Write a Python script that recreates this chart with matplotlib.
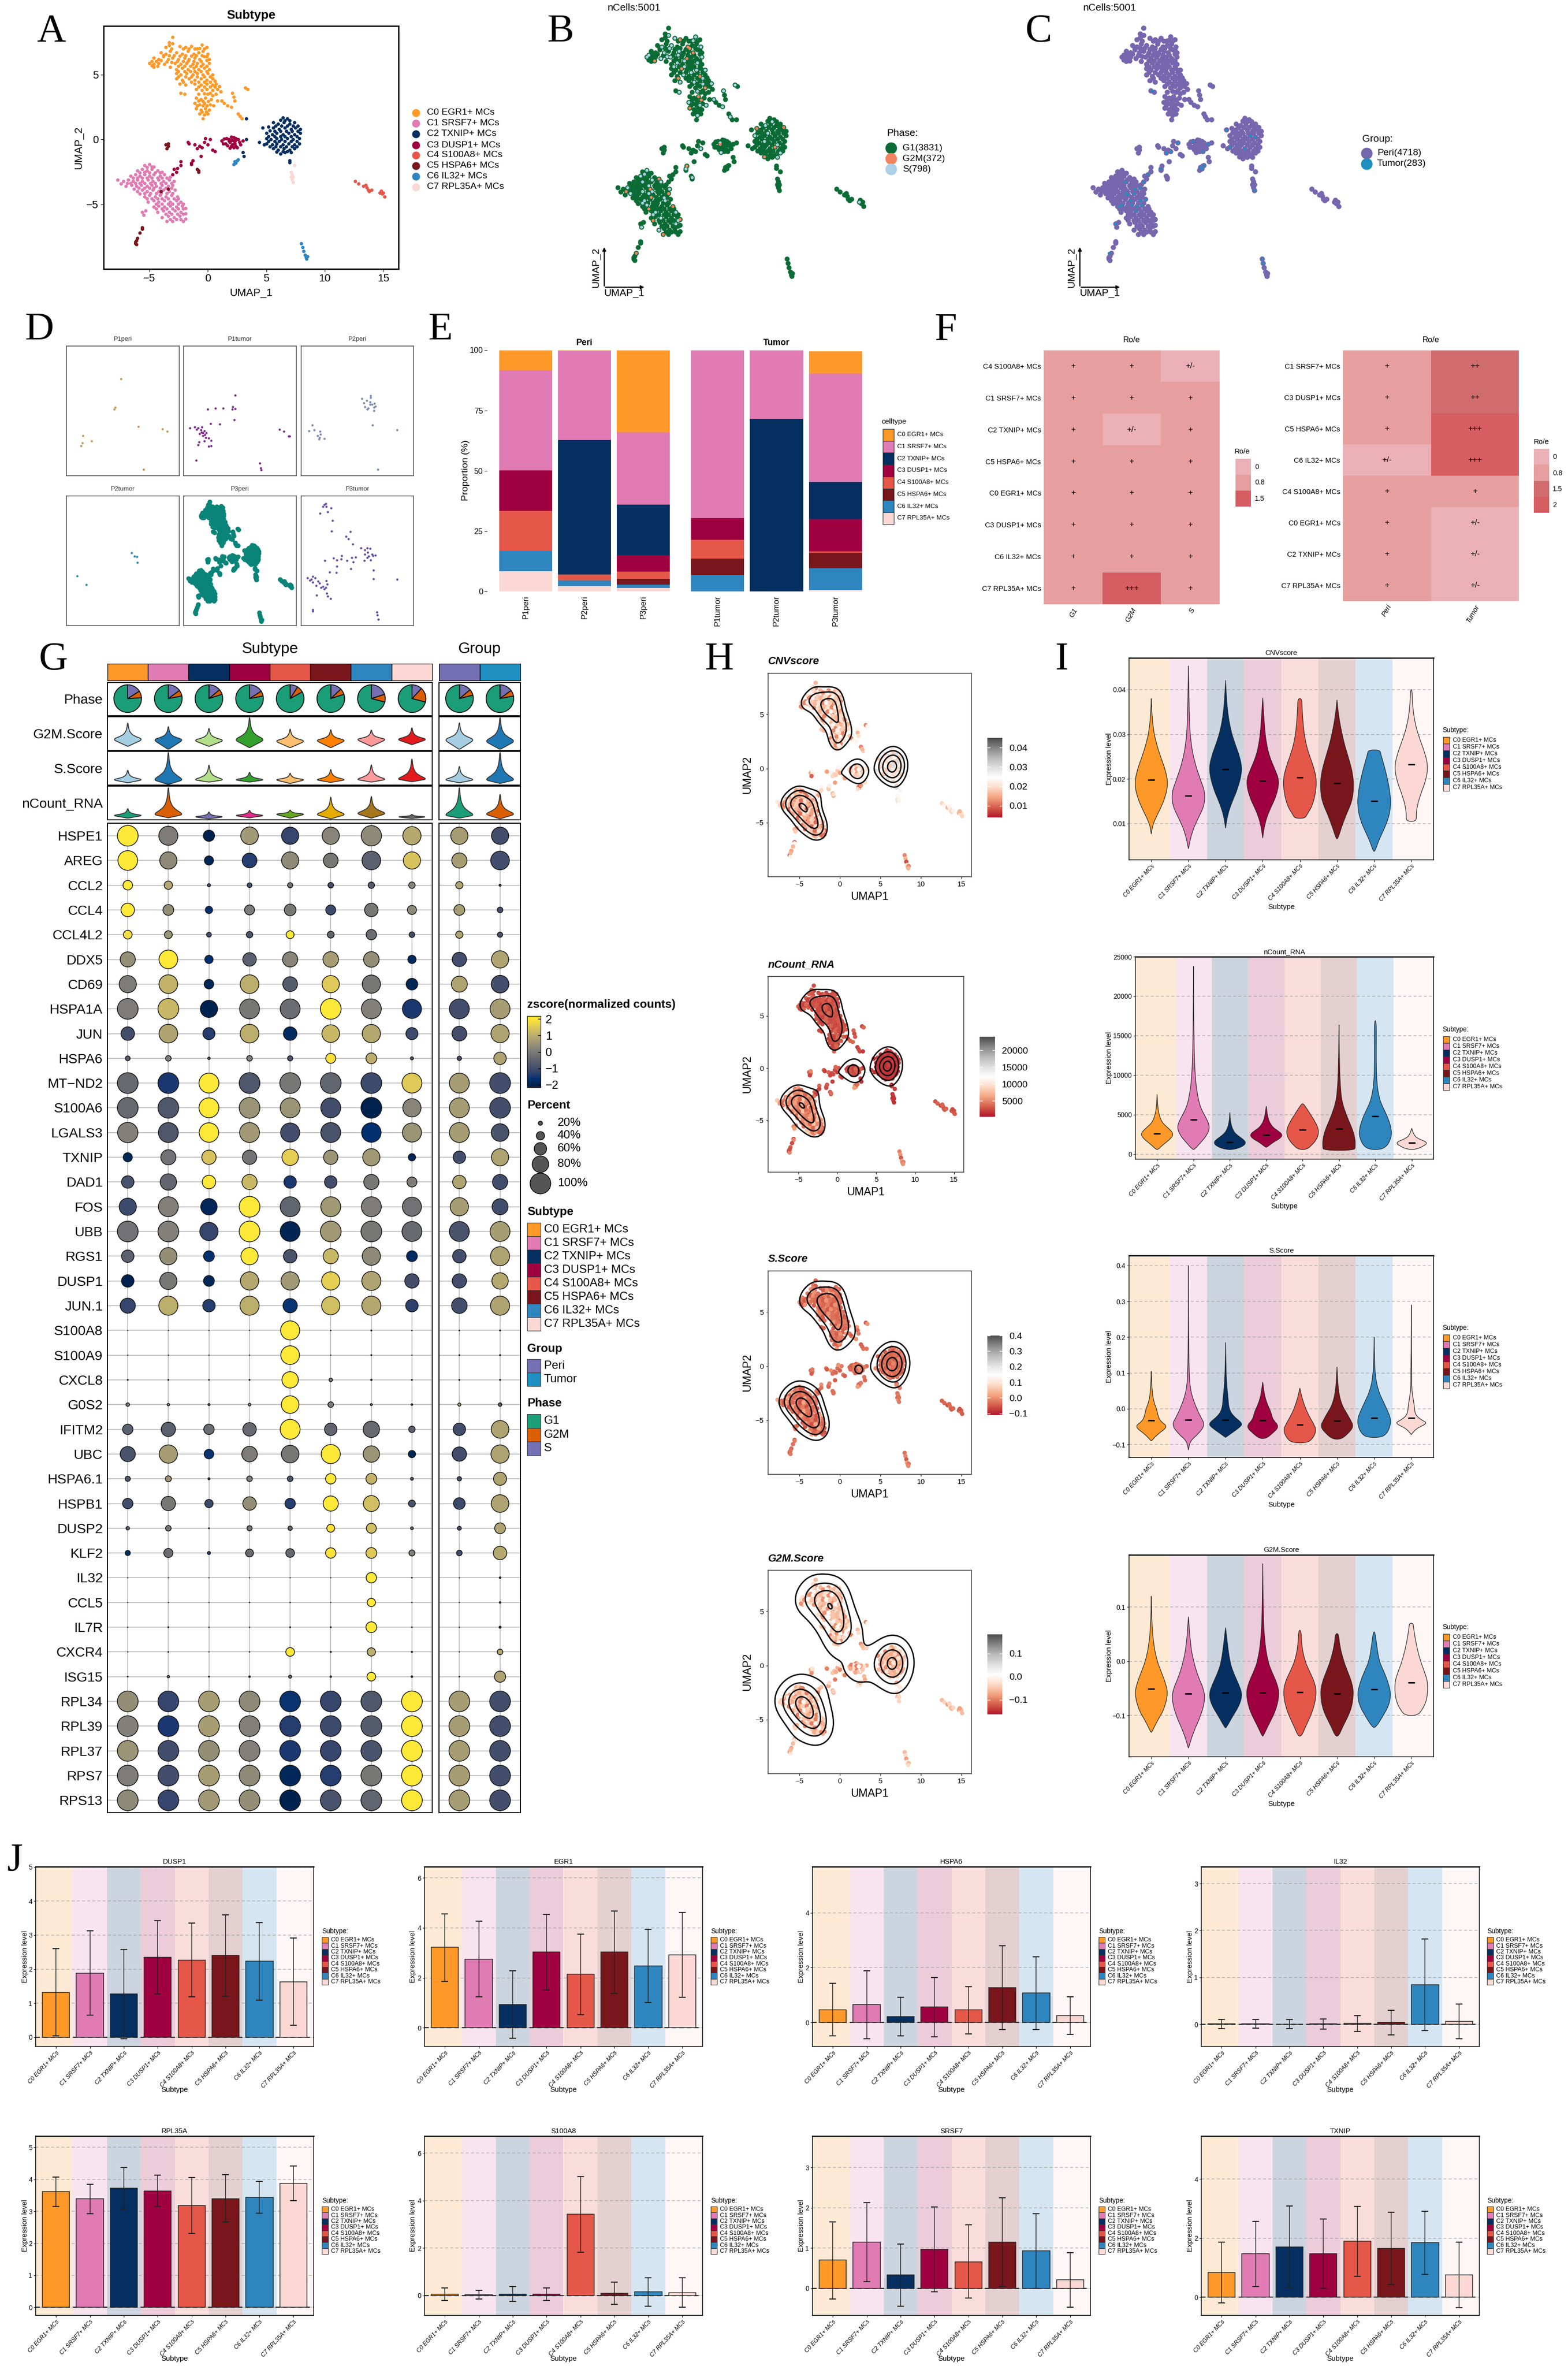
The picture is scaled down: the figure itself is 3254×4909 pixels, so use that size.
import numpy as np
import matplotlib
matplotlib.use("Agg")
import matplotlib.pyplot as plt
from matplotlib.colors import LinearSegmentedColormap, ListedColormap, BoundaryNorm
from matplotlib.path import Path
from matplotlib.patches import PathPatch, Rectangle

plt.rcParams['font.family'] = ['Liberation Sans', 'DejaVu Sans']

W, H = 3254, 4909

###############################################################################
# Data
###############################################################################

subtypes = ["C0 EGR1+ MCs", "C1 SRSF7+ MCs", "C2 TXNIP+ MCs", "C3 DUSP1+ MCs",
            "C4 S100A8+ MCs", "C5 HSPA6+ MCs", "C6 IL32+ MCs", "C7 RPL35A+ MCs"]
sub_cols = ["#FE9929", "#E07BB3", "#042F60", "#9F0040", "#E55748", "#78161C", "#2F86BF", "#FBD8D3"]

# UMAP cells, cluster by cluster
c0_cells = [(-3.0,7.9),(-3.3,7.5),(-3.0,7.4),(-3.6,7.1),(-3.1,7.0),(-2.4,7.2),(-1.9,7.1),(-1.4,7.2),(-.9,7.0),(-.5,7.3),(-.1,7.1),
    (-4.0,6.7),(-3.6,6.6),(-3.2,6.8),(-2.7,6.7),(-2.2,6.6),(-1.7,6.8),(-1.2,6.6),(-.8,6.7),(-.4,6.8),(0.0,6.6),
    (-4.6,6.3),(-4.2,6.2),(-3.8,6.4),(-3.4,6.2),(-3.0,6.3),(-2.5,6.2),(-2.0,6.3),(-1.6,6.2),(-1.1,6.3),(-.7,6.2),(-.3,6.4),(.1,6.2),
    (-5.0,5.9),(-4.6,5.8),(-4.2,5.9),(-3.7,5.8),(-3.2,5.6),(-2.8,5.9),(-2.3,5.8),(-1.8,5.9),(-1.3,5.8),(-.9,5.9),(-.4,5.8),(.1,5.9),
    (-4.6,5.6),(-2.7,5.4),(-2.2,5.5),(-1.7,5.4),(-1.2,5.5),(-.8,5.4),(-.3,5.5),(.1,5.4),
    (-2.7,5.1),(-2.3,5.0),(-1.8,5.1),(-1.3,5.0),(-.9,5.1),(-.4,5.0),(0.0,5.1),(.4,5.0),
    (-2.7,4.7),(-2.2,4.6),(-1.6,4.7),(-1.1,4.6),(-.6,4.7),(-.1,4.6),(.4,4.7),
    (-2.4,4.3),(-1.9,4.2),(-1.1,4.3),(-.6,4.2),(-.1,4.3),(.4,4.2),(.7,4.3),(1.0,4.1),
    (-1.0,3.9),(-.5,3.8),(-.1,3.9),(.4,3.8),(.8,3.9),(1.1,3.7),(3.2,4.0),(3.4,3.9),
    (-2.3,3.6),(-2.0,3.5),(0.0,3.5),(.4,3.4),(2.1,3.6),
    (-1.0,3.2),(-.6,3.1),(-.2,3.2),(.3,3.1),(.8,3.0),(1.2,3.0),(2.2,3.3),(2.3,3.0),
    (-1.1,2.8),(-.7,2.7),(-.3,2.8),(.2,2.7),(.5,2.6),(1.4,2.8),(1.7,2.6),
    (-1.0,2.4),(-.6,2.3),(-.2,2.4),(.1,2.3),(2.0,2.5),
    (-.7,2.0),(-.3,1.9),(0.0,2.0),(2.6,2.0),(-.4,1.6),(2.9,1.6),(2.75,1.8),
    (-3.3,7.25),(-2.1,7.0),(-1.6,7.0),(-1.1,7.0),(-.7,7.05),(-.3,7.0),
    (-3.8,6.5),(-3.3,6.5),(-2.9,6.5),(-2.4,6.45),(-1.9,6.5),(-1.4,6.45),(-1.0,6.5),(-.5,6.5),(-.1,6.4),
    (-4.8,6.05),(-4.4,6.05),(-4.0,6.1),(-3.5,6.0),(-3.1,5.95),(-2.6,6.05),(-2.1,6.05),(-1.7,6.05),(-1.2,6.05),(-.6,6.05),(-.1,6.1),
    (-4.8,5.7),(-4.3,5.65),(-2.5,5.65),(-2.0,5.65),(-1.5,5.65),(-1.0,5.65),(-.6,5.65),(-.1,5.65),
    (-2.5,5.25),(-2.0,5.25),(-1.5,5.25),(-1.1,5.25),(-.6,5.25),(-.1,5.25),
    (-2.5,4.85),(-1.9,4.85),(-1.4,4.85),(-.9,4.85),(-.3,4.85),(.2,4.85),
    (-2.1,4.45),(-1.4,4.45),(-.8,4.45),(-.3,4.45),(.2,4.45),(.6,4.5),
    (-.8,4.05),(-.3,4.05),(.2,4.05),(.6,4.05),
    (-.8,3.5),(-.3,3.55),(.2,3.6),(.7,3.5),(-.8,3.0),(-.4,2.95),(.05,2.95),(-.9,2.6),(-.4,2.6),(-.1,2.6),(-.5,2.15),(-.15,2.15)]
c1_cells = [(-5.4,-2.0),(-5.0,-1.9),(-4.6,-2.1),
    (-6.0,-2.4),(-5.6,-2.3),(-5.2,-2.4),(-4.8,-2.3),(-4.3,-2.4),(-3.9,-2.5),
    (-6.6,-2.8),(-6.2,-2.7),(-5.8,-2.8),(-5.4,-2.7),(-5.0,-2.8),(-4.6,-2.7),(-4.1,-2.8),(-3.7,-2.7),(-3.2,-2.9),
    (-7.7,-3.1),(-7.2,-3.2),(-6.8,-3.1),(-6.4,-3.2),(-6.0,-3.1),(-5.6,-3.2),(-5.1,-3.1),(-4.7,-3.2),(-4.2,-3.1),(-3.8,-3.2),(-3.3,-3.1),(-2.9,-3.2),
    (-7.0,-3.6),(-6.5,-3.5),(-6.1,-3.6),(-5.7,-3.5),(-5.2,-3.6),(-4.8,-3.5),(-4.4,-3.6),(-3.9,-3.5),(-3.4,-3.6),(-3.0,-3.5),
    (-6.0,-4.0),(-5.6,-3.9),(-5.2,-4.0),(-4.7,-3.9),(-4.2,-4.0),(-3.8,-3.9),(-3.3,-4.0),(-2.8,-3.9),
    (-5.4,-4.4),(-5.0,-4.3),(-4.5,-4.4),(-4.1,-4.3),(-3.6,-4.4),(-3.1,-4.3),(-2.6,-4.4),
    (-5.1,-4.8),(-4.6,-4.7),(-4.2,-4.8),(-3.7,-4.7),(-3.2,-4.8),(-2.7,-4.7),(-2.3,-4.8),
    (-4.6,-5.2),(-4.2,-5.1),(-3.7,-5.2),(-3.2,-5.1),(-2.7,-5.2),(-2.2,-5.1),(-1.9,-5.3),
    (-5.6,-5.6),(-5.3,-5.5),(-5.5,-5.8),(-4.3,-5.6),(-3.8,-5.5),(-3.3,-5.6),(-2.8,-5.5),(-2.3,-5.6),(-1.9,-5.7),
    (-3.9,-6.0),(-3.4,-5.9),(-2.9,-6.0),(-2.4,-5.9),(-1.9,-6.1),(-3.5,-6.3),(-3.0,-6.3),(-2.1,-6.3),
    (-5.2,-2.15),(-4.8,-2.1),(-5.8,-2.55),(-5.4,-2.5),(-5.0,-2.55),(-4.5,-2.55),(-4.1,-2.55),
    (-6.4,-2.95),(-6.0,-2.95),(-5.6,-2.95),(-5.2,-2.95),(-4.8,-2.95),(-4.3,-2.95),(-3.9,-2.95),(-3.5,-2.95),
    (-7.4,-3.4),(-6.9,-3.35),(-6.6,-3.35),(-6.2,-3.35),(-5.8,-3.35),(-5.4,-3.35),(-4.9,-3.35),(-4.5,-3.35),(-4.0,-3.35),(-3.6,-3.35),(-3.1,-3.35),
    (-6.3,-3.8),(-5.9,-3.75),(-5.4,-3.75),(-5.0,-3.75),(-4.6,-3.75),(-4.1,-3.75),(-3.6,-3.75),(-3.1,-3.75),
    (-5.8,-4.2),(-5.4,-4.15),(-4.9,-4.15),(-4.4,-4.15),(-4.0,-4.15),(-3.5,-4.15),(-3.0,-4.15),
    (-5.2,-4.55),(-4.8,-4.55),(-4.3,-4.55),(-3.9,-4.55),(-3.4,-4.55),(-2.9,-4.55),(-2.5,-4.55),
    (-4.4,-4.95),(-3.9,-4.95),(-3.4,-4.95),(-3.0,-4.95),(-2.5,-4.95),(-2.1,-4.95),
    (-4.4,-5.35),(-3.9,-5.35),(-3.5,-5.35),(-3.0,-5.35),(-2.5,-5.35),(-2.1,-5.35),
    (-3.6,-5.75),(-3.1,-5.75),(-2.6,-5.75),(-2.1,-5.75),(-3.2,-6.15),(-2.7,-6.15),(-2.3,-6.15)]
c2_cells = [(6.4,1.7),(6.8,1.6),(5.6,1.3),(6.0,1.2),(6.5,1.3),(7.0,1.2),(7.4,1.3),
    (4.7,.9),(5.2,1.0),(5.6,.9),(6.1,.8),(6.6,.9),(7.1,.8),(7.5,.9),(7.9,.8),
    (5.0,.5),(5.5,.4),(5.9,.5),(6.4,.4),(6.9,.5),(7.4,.4),(7.9,.5),
    (5.0,.1),(5.4,0.0),(5.9,.1),(6.3,0.0),(6.8,.1),(7.3,0.0),(7.8,.1),
    (5.0,-.3),(5.5,-.4),(5.9,-.3),(6.4,-.4),(6.9,-.3),(7.4,-.4),(7.8,-.3),
    (5.6,-.7),(6.0,-.8),(6.5,-.7),(7.0,-.8),(7.4,-.7),(6.2,-1.1),(6.6,-1.0),
    (4.4,-.2),(4.8,-.4),(3.3,0.0),(3.3,1.6),(7.0,-1.6),(7.0,-1.75),(3.0,-1.0),(3.1,-1.3),
    (6.2,1.5),(6.6,1.45),(7.0,1.45),(5.8,1.05),(6.3,1.05),(6.8,1.05),(7.3,1.05),(7.7,1.05),
    (5.3,.7),(5.7,.65),(6.2,.65),(6.7,.65),(7.2,.65),(7.7,.65),
    (5.2,.25),(5.7,.25),(6.2,.25),(6.6,.25),(7.1,.25),(7.6,.25),
    (5.2,-.15),(5.7,-.15),(6.1,-.15),(6.6,-.15),(7.1,-.15),(7.6,-.15),
    (5.3,-.55),(5.8,-.55),(6.2,-.55),(6.7,-.55),(7.2,-.55),(7.6,-.55),(5.9,-.95),(6.4,-.9),(6.8,-.9),(7.1,-1.0)]
c3_cells = [(1.2,-.1),(1.6,.1),(2.0,.2),(2.4,.1),(1.5,-.3),(1.9,-.2),(2.3,-.3),(2.7,-.2),(2.0,-.5),(2.5,-.6),(2.2,-.1),(3.0,-.1),
    (1.4,.05),(1.8,0.0),(2.2,.15),(2.6,0.0),(1.7,-.45),(2.1,-.4),(2.4,-.5),(2.8,-.4),(1.3,-.3),(1.8,-.1),(2.05,-.05),(2.35,-.1),(2.2,-.6),(1.9,-.65),
    (-1.7,-.2),(-1.6,-.3),(-1.1,-.4),(-.7,-.5),(-.3,-.2),(.2,0.0),(0.0,-.4),(-.2,.1),(-.9,-.7),(-.5,-.6),(.4,-.8),(.6,-.9),
    (-2.3,-1.7),(-2.3,-2.0),(-2.6,-2.2),(-2.9,-2.3),(-2.7,-2.5),(-3.0,-2.7),(-1.4,-1.8),(-1.4,-1.9),(-1.3,-1.6),(-.6,-1.3)]
c4_cells = [(12.6,-3.2),(12.9,-3.4),(13.3,-3.6),(13.6,-3.7),(13.7,-3.9),(13.8,-4.0),(14.0,-3.9),(14.7,-4.1),(14.9,-4.2),(15.0,-4.1),(15.1,-4.4),(13.5,-3.5),(14.8,-3.95)]
c5_cells = [(-3.6,-.4),(-3.4,-.5),(-3.5,-.7),(-3.4,-.3),(-.9,-2.3),(-.8,-2.5),(-.8,-2.4),(-5.6,-6.8),(-5.6,-6.9),(-5.8,-7.2),(-6.0,-7.6),(-6.2,-7.9),(-6.2,-8.0),(-6.1,-8.1),(-6.1,-7.8),(-3.4,-3.8),(-4.0,-4.0)]
c6_cells = [(2.3,-1.7),(2.4,-1.8),(2.5,-1.6),(2.2,-1.9),(2.6,-1.55),(8.0,-8.0),(8.1,-8.3),(8.2,-8.6),(8.3,-8.9),(8.4,-9.1),(8.5,-9.0),(8.45,-9.2)]
c7_cells = [(7.1,-2.5),(7.2,-2.7),(7.1,-2.9),(7.2,-3.1),(7.3,-3.3),(7.3,-2.9),(7.4,-2.0)]
all_cells = [c0_cells, c1_cells, c2_cells, c3_cells, c4_cells, c5_cells, c6_cells, c7_cells]

# positions in the full cell list that are not G1
s_idx = [2,5,9,12,14,20,24,27,33,36,38,44,47,51,58,60,63,69,71,75,82,85,88,94,97,101,108,110,115,120,124,131,135,137,146,150,152,159,166,170,173,181,185,188,
         196,200,204,213,215,219,226,230,233,241,245,248,255,260,262,270,275,281,290,292,305,318,329,340,352,361,377,389,398,412,423,437,449,456,468,479,491,500]
g2m_idx = [6,17,30,41,55,66,79,91,104,128,143,162,178,192,209,223,238,252,267,286,300,312,324,345,370,395,420,445,470,495]

phase_names = ["G1(3831)", "G2M(372)", "S(798)"]
phase_cols = ["#0B6B35", "#F4845F", "#ADD1E6"]
group_names = ["Peri(4718)", "Tumor(283)"]
group_cols = ["#7566AE", "#1E8FC0"]
tumor_cells = [(-4.6,-3.5),(-4.2,-4.0),(-3.8,-3.2),(-3.6,-4.4),(-3.3,-4.0),(-4.1,-4.3),(-3.7,-4.7),(-3.3,-3.1),(-4.4,-3.6),(-3.9,-3.5),(-5.0,-4.3),
    (-5.2,-4.4),(-3.1,-4.3),(-2.8,-3.9),(-4.7,-2.7),(-5.6,-5.6),(-6.2,-7.6),(-3.0,-2.7),(-2.6,-2.2),(-1.4,-1.8),(-.9,-.7),(.2,0.0),(-.5,-.6),(1.6,.1),
    (2.5,-.6),(3.0,-.1),(2.4,-1.8),(2.3,-1.7),(2.6,-1.55),(6.4,-.4),(6.9,.5),(7.4,.4),(4.7,.9),(5.0,-.3),(8.0,-8.0),(8.1,-8.3),(7.3,-3.3),(-2.2,3.6)]

# panel D: cells per patient and tissue
facet_names = ["P1peri", "P1tumor", "P2peri", "P2tumor", "P3peri", "P3tumor"]
facet_cols = ["#C8955A", "#7B2A8C", "#7C8DB0", "#2B8CA8", "#0A8478", "#6450A6"]
p1peri = [(3.27,4.0),(2.04,-.04),(1.83,-.29),(7.15,-2.79),(12.5,-3.14),(13.56,-3.52),(-5.19,-4.09),(-3.21,-4.85),(-5.32,-5.16),(-5.6,-5.6),(8.31,-8.96)]
p1tumor = [(2.65,1.7),(-3.48,-.35),(-1.78,-.16),(0.0,-.16),(2.1,.06),(2.04,-.35),(2.58,-.26),(2.45,-1.84),(-2.87,-2.41),(-.82,-2.44),
    (12.47,-3.2),(13.4,-3.5),(14.7,-4.18),(14.5,-4.2),(-6.07,-7.66),(8.1,-8.07),(8.3,-8.74),(8.45,-9.05),
    (-6.35,-2.88),(-7.44,-2.98),(-5.6,-2.98),(-4.7,-2.88),(-5.94,-3.2),(-4.9,-3.6),(-4.23,-3.45),(-5.25,-3.83),(-3.75,-3.68),(-4.57,-4.09),
    (-3.9,-4.4),(-3.2,-4.47),(-2.66,-4.78),(-4.23,-4.85),(-5.4,-5.04),(-5.6,-5.42),(-3.2,-5.67),(-2.66,-5.57),(-5.0,-3.3),(-4.5,-3.7),(-4.1,-4.0)]
p2peri = [(4.7,1.17),(6.67,1.64),(6.67,1.32),(5.8,.95),(5.2,.6),(6.54,.75),(7.56,.53),(7.0,.34),(5.4,.03),(5.9,-.29),(6.5,.37),(7.4,-.03),(7.36,-.51),(7.7,.09),(6.1,-.2),
    (7.08,-2.57),(12.5,-3.26),(8.3,-8.96),(-6.3,-2.63),(-7.1,-3.42),(-5.87,-3.26),(-4.64,-3.52),(-5.2,-4.09),(-4.7,-4.4),(-3.7,-4.53),(-4.5,-3.9),(-4.85,-4.62)]
p2tumor = [(5.65,.57),(6.26,.12),(6.8,0.0),(6.9,-.83),(-6.5,-2.76),(-4.37,-4.0)]
p3tumor = [(-3.35,7.62),(-3.7,7.46),(-4.0,7.2),(-3.2,7.24),(-2.1,7.0),(-4.65,6.26),(-2.94,6.45),(-1.8,5.2),(-2.05,3.67),(2.1,3.6),(1.2,2.94),(1.7,2.6),(2.7,1.83),
    (4.5,1.3),(5.85,1.3),(6.5,1.2),(5.4,.98),(6.0,.66),(7.0,.35),(7.7,.25),(5.4,.35),(6.2,.12),(5.3,-.51),(6.7,-.45),(7.2,.19),(5.85,-.13),
    (-3.55,-.51),(-1.65,-.2),(-.83,-.45),(.2,.19),(.06,-.29),(1.4,-.51),(2.45,-.13),(3.3,-.04),(2.8,-.76),(2.24,-1.71),(-.83,-1.33),(-2.5,-2.19),(-.96,-2.25),(7.3,-1.9),(7.3,-3.14),(12.5,-3.2),
    (-7.44,-3.04),(-6.2,-2.82),(-5.7,-3.04),(-6.9,-3.36),(-6.2,-3.6),(-5.5,-4.09),(-4.7,-3.77),(-4.0,-4.25),(-3.2,-3.45),(-3.35,-4.4),(-3.0,-3.93),(-5.4,-5.5),(-2.94,-5.67),(-2.3,-5.98),(-3.1,-5.2),
    (-6.2,-7.6),(-6.25,-7.75),(8.0,-7.9),(8.15,-8.36),(8.4,-8.93),(-6.6,-3.2),(-5.0,-3.5),(-4.4,-4.4),(-3.6,-4.6)]

# panel E: percent of each subtype in every sample
sample_names = [["P1peri", "P2peri", "P3peri"], ["P1tumor", "P2tumor", "P3tumor"]]
prop_peri = [[8.3, 41.6, 0.0, 16.8, 16.6, 0.0, 8.3, 8.4],
             [0.2, 37.0, 55.9, 0.0, 2.3, 0.0, 2.4, 2.2],
             [34.1, 30.0, 21.0, 6.8, 2.9, 2.5, 1.4, 1.3]]
prop_tumor = [[0.0, 69.7, 0.0, 9.0, 7.8, 6.8, 6.7, 0.0],
              [0.0, 28.5, 71.5, 0.0, 0.0, 0.0, 0.0, 0.0],
              [9.1, 45.0, 15.5, 13.4, 0.5, 6.4, 9.0, 0.6]]

# panel F: Ro/e tables
roe_rows_a = ["C4 S100A8+ MCs", "C1 SRSF7+ MCs", "C2 TXNIP+ MCs", "C5 HSPA6+ MCs", "C0 EGR1+ MCs", "C3 DUSP1+ MCs", "C6 IL32+ MCs", "C7 RPL35A+ MCs"]
roe_vals_a = [[1, 1, .5], [1, 1, 1], [1, .5, 1], [1, 1, 1], [1, 1, 1], [1, 1, 1], [1, 1, 1], [1, 2.3, 1]]
roe_text_a = [["+", "+", "+/-"], ["+", "+", "+"], ["+", "+/-", "+"], ["+", "+", "+"], ["+", "+", "+"], ["+", "+", "+"], ["+", "+", "+"], ["+", "+++", "+"]]
roe_rows_b = ["C1 SRSF7+ MCs", "C3 DUSP1+ MCs", "C5 HSPA6+ MCs", "C6 IL32+ MCs", "C4 S100A8+ MCs", "C0 EGR1+ MCs", "C2 TXNIP+ MCs", "C7 RPL35A+ MCs"]
roe_vals_b = [[1, 1.7], [1, 1.7], [1, 2.3], [.5, 2.3], [1, 1], [1, .5], [1, .5], [1, .5]]
roe_text_b = [["+", "++"], ["+", "++"], ["+", "+++"], ["+/-", "+++"], ["+", "+"], ["+", "+/-"], ["+", "+/-"], ["+", "+/-"]]

# panel G: percent expressing and zscore per gene (8 subtypes, then Peri, Tumor)
genes = ["HSPE1","AREG","CCL2","CCL4","CCL4L2","DDX5","CD69","HSPA1A","JUN","HSPA6","MT\u2212ND2","S100A6","LGALS3","TXNIP","DAD1","FOS","UBB","RGS1","DUSP1","JUN.1",
         "S100A8","S100A9","CXCL8","G0S2","IFITM2","UBC","HSPA6.1","HSPB1","DUSP2","KLF2","IL32","CCL5","IL7R","CXCR4","ISG15","RPL34","RPL39","RPL37","RPS7","RPS13"]
pct = [[100,92,54,85,83,83,98,88,83,83],[95,83,44,71,83,71,90,83,73,90],[46,40,15,23,25,27,31,31,35,10],[65,52,35,48,56,48,65,44,52,27],[42,38,23,31,38,33,50,27,35,25],
       [73,90,40,65,73,75,75,40,69,83],[83,90,46,90,71,83,88,56,77,85],[100,100,83,96,96,100,96,92,96,96],[65,90,58,90,65,85,88,58,71,88],[23,27,12,27,25,48,52,15,21,60],
       [100,100,96,100,100,100,100,96,96,100],[100,100,96,100,96,96,100,88,96,100],[98,96,94,96,92,96,94,92,96,85],[44,73,69,69,79,69,83,35,60,83],[60,79,65,73,60,60,73,48,65,73],
       [83,96,79,100,96,96,96,92,88,77],[100,100,88,100,96,100,100,96,96,96],[60,83,52,83,65,73,88,52,65,92],[60,83,52,88,88,88,92,69,69,79],[73,92,60,92,69,88,92,60,75,92],
       [2,2,2,2,92,3,5,3,4,5],[2,2,2,2,90,2,5,2,4,5],[5,5,4,5,79,17,7,5,5,5],[17,12,10,13,85,27,10,8,15,17],[50,69,50,65,96,60,79,31,60,85],
       [73,88,46,75,85,92,79,35,69,88],[25,29,10,27,27,50,52,14,21,63],[50,69,40,65,50,73,77,33,56,85],[17,27,5,25,21,38,48,14,19,52],[25,44,15,38,42,50,52,29,27,65],
       [2,2,2,2,2,2,50,4,2,8],[2,2,2,3,3,2,40,3,2,8],[3,5,3,3,5,5,52,4,3,10],[2,4,2,3,42,6,40,6,2,27],[4,12,5,8,15,8,42,8,4,54],
       [100,100,100,100,100,100,100,100,100,100],[100,100,100,100,100,100,100,100,100,100],[100,100,100,100,100,100,100,100,100,100],[100,100,100,100,100,100,100,100,100,100],[100,100,100,100,100,100,100,100,100,100]]
zs = [[2,0,-2,.6,-1.2,.2,.3,.9,.7,-1],[2,.3,-1.9,-1.4,.3,-.1,-.6,1.4,.7,-1],[2,.9,-1,-1,-.2,-1,-.7,.2,.8,-.8],[2,.4,-1.7,0,-.1,-1.1,-.1,.3,.7,-1],[1.8,.5,-1,-.9,2,-.5,-.3,-1,.8,-.9],
      [.4,2,-1.7,-.6,.2,.7,.4,-1.8,-1,.8],[0,1.1,-1.9,1,-.7,1.5,-.1,-1.9,.8,-1],[0,1.2,-2,-.1,-.3,2,.1,-1.5,-1,.7],[-1,.8,-1.4,1,-1.8,1.2,.9,-1.1,-1,.8],[-.7,.1,-.8,.1,-.9,1.9,1,-.8,-1,.8],
      [-.4,-1.5,2,-.8,-.1,-.5,-1.1,1.5,.7,-1],[-.4,-.8,2,.5,.5,-1,-2,.2,.7,-1],[.1,-.8,2,.6,-1,-.9,-1.7,.5,.7,-.9],[-1.9,-.2,1.4,-.2,1.6,.5,.6,-1.9,-1,.8],[-.9,-.5,2,1.2,-1.5,-1,-.1,0,.8,-1],
      [-1.1,.1,-1.9,2,-.5,.6,0,-.2,.7,-1],[-.2,.1,-1.2,2,-1.95,.6,-.1,-.4,-.9,.7],[-.6,.4,-1.7,2,-.9,1.2,.3,-1.8,-1,.8],[-2,-.1,-1.9,.9,.6,1.6,.8,-1,-1,.9],[-1.2,1,-1.4,1,-1.6,1.3,.9,-1.3,-1,.8],
      [-1,-1,-1,-1,2,-1,-1,-1,-1,-1],[-1,-1,-1,-1,2,-1,-1,-1,-1,-1],[-1,-1,-1,-1,2,0,-1,-1,-1,-1],[0,0,-1,0,2,0,-.5,-1,.8,-.5],[-.6,-.6,-.3,-.4,2,-.5,-.4,-.6,-1,.8],
      [-.9,.7,-1.6,0,-.1,2,.5,-1.9,-1,.8],[-.8,.5,-.9,0,-.8,2,1.1,-.9,-1,.8],[-1,-.1,-1.1,.4,-1.4,2,1.3,-.9,-1.1,.8],[-.8,-.1,-1,-.1,-.5,1.9,1.3,-.7,-1,.8],[-1.7,-.3,-1.5,-.3,-.4,1.9,1.5,0,-1,.9],
      [-1,-1,-1,-1,-1,-1,2,-1,-1,-1],[-1,-1,-1,-1,-1,-1,2,-1,-1,-1],[-1,-1,-1,-1,-1,-1,2,-1,-1,-1],[-1,-1,-1,-1,2,-1,1,-1,-1,.9],[-1,-.5,-1,-1,-.3,-1,2,-1,-1,.8],
      [.4,-1.2,.7,.3,-1.6,-1.2,-.8,2,.7,-1],[.1,-1.5,.7,.1,-1.4,-1.1,-.7,2,.7,-1],[.5,-1,.4,.1,-1.5,-1.2,-.9,2,.7,-1],[0,-1,.7,.3,-1.9,-1.4,-.1,2,.7,-1],[.3,-1.2,.6,.4,-2,-.9,-.5,2,.7,-1]]

g_phase_names = ["G1", "G2M", "S"]
g_phase_cols = ["#1B9E77", "#D95F02", "#7570B3"]
g_group_names = ["Peri", "Tumor"]
g_group_cols = ["#7570B3", "#1E8FC0"]
# S, G2M, G1 shares of each column
phase_share = [[.16,.08,.76],[.15,.07,.78],[.14,.06,.80],[.16,.06,.78],[.09,.08,.83],[.13,.07,.80],[.20,.09,.71],[.12,.17,.71],[.14,.07,.79],[.15,.07,.78]]

# small violins above the dots: bottom, widest point, top (fraction of the row height)
mini_g2m = [[.12,.33,.81],[.03,.32,.70],[.12,.30,.65],[.08,.32,.97],[.08,.28,.63],[.08,.30,.61],[.12,.33,.60],[.17,.33,.67],[.03,.32,.81],[.03,.28,.97]]
mini_s = [[.07,.16,.44],[.02,.16,.97],[.09,.16,.59],[.09,.16,.38],[.05,.16,.35],[.08,.16,.46],[.09,.17,.60],[.10,.18,.77],[.07,.16,.55],[.05,.16,.97]]
mini_ncount = [[.05,.13,.33],[.06,.16,.95],[.03,.09,.23],[.06,.13,.28],[.05,.17,.29],[.03,.16,.67],[.05,.19,.69],[.04,.09,.16],[.05,.14,.95],[.03,.17,.75]]
paired_cols = ["#A6CEE3", "#1F78B4", "#B2DF8A", "#33A02C", "#FDBF6F", "#FF7F00", "#FB9A99", "#E31A1C", "#A6CEE3", "#1F78B4"]
dark_cols = ["#1B9E77", "#D95F02", "#7570B3", "#E7298A", "#66A61E", "#E6AB02", "#A6761D", "#666666", "#1B9E77", "#D95F02"]

# panel H: typical feature value of the cells of each subtype
cnv_vals = [[.016,.020,.012,.023,.018],[.014,.018,.010,.021,.016],[.020,.024,.018,.030,.022],[.018,.022,.014,.026,.019],[.019,.023,.016,.021,.020],[.014,.020,.009,.023,.016],[.012,.016,.008,.020,.013],[.023,.026,.020,.028,.024]]
ncount_vals = [[2600,3000,2000,3500,2400],[4500,6000,3500,8000,5000],[1500,1800,1200,2000,1400],[2500,3000,2000,3600,2300],[3000,3500,2500,3200,2800],[3200,4000,2000,5000,2600],[4800,5500,3000,6000,4000],[1450,1700,1200,1900,1400]]
sscore_vals = [[-.04,-.02,-.05,0.0,-.03],[-.04,-.02,-.06,.02,-.03],[-.04,-.03,-.05,-.01,-.03],[-.04,-.02,-.05,0.0,-.03],[-.05,-.04,-.06,-.02,-.04],[-.04,-.03,-.05,-.02,-.03],[-.03,-.01,-.05,.01,-.02],[-.03,-.02,-.04,0.0,-.02]]
g2m_vals = [[-.06,-.03,-.09,0.0,-.05],[-.07,-.04,-.10,0.0,-.05],[-.07,-.04,-.09,-.02,-.06],[-.07,-.03,-.10,0.0,-.05],[-.06,-.04,-.08,-.02,-.06],[-.07,-.04,-.09,-.02,-.06],[-.06,-.03,-.08,-.01,-.05],[-.04,-.02,-.06,0.0,-.04]]

# panel I: violin profiles, expression level, relative width, median
cnv_y = [[.0077,.010,.013,.016,.019,.022,.025,.028,.031,.035,.038],[.0044,.008,.011,.014,.017,.020,.024,.028,.032,.038,.0453],[.009,.012,.015,.018,.022,.025,.028,.031,.035,.039,.0421],[.0068,.010,.013,.016,.0195,.022,.025,.028,.031,.035,.0382],
         [.0112,.012,.014,.017,.020,.023,.026,.029,.032,.036,.038],[.0066,.009,.012,.015,.018,.021,.024,.027,.030,.034,.0377],[.0038,.006,.008,.011,.014,.017,.020,.023,.0255,.0265],[.0105,.012,.014,.017,.020,.023,.026,.029,.032,.036,.040]]
cnv_w = [[0,.1,.5,.85,1,.85,.55,.3,.12,.03,0],[0,.2,.55,.95,1,.7,.35,.15,.07,.03,0],[0,.12,.4,.75,1,.85,.55,.3,.12,.04,0],[0,.12,.4,.8,1,.75,.4,.22,.12,.05,0],
         [.3,.42,.75,.95,1,.8,.5,.3,.2,.13,.12],[.05,.25,.55,.9,1,.95,.75,.5,.3,.1,0],[.05,.25,.5,.85,1,.95,.8,.6,.4,.35],[.3,.3,.35,.6,.9,1,.8,.5,.25,.08,.05]]
cnv_med = [.0198,.0162,.0222,.0196,.0203,.019,.0151,.0233]
ncount_y = [[600,1200,2000,2600,3200,4000,5000,6000,7600],[600,1500,2500,3500,4500,6000,8000,10000,13000,18000,23800],[600,1000,1500,2000,2500,3000,4000,5300],[900,1500,2000,2500,3000,3500,4500,6100],
            [600,1000,2000,3000,4000,5000,5800,6400],[500,1000,2000,3000,4000,5000,6500,8000,11000,16400],[600,1000,2000,3000,4500,6000,7000,9000,12000,15000,16900],[600,1000,1500,2000,2500,3300]]
ncount_w = [[.05,.35,.85,1,.75,.3,.12,.04,0],[.05,.45,.85,1,.8,.4,.2,.1,.04,.015,0],[.25,.8,1,.75,.4,.2,.04,0],[.05,.4,.85,1,.7,.35,.1,0],
            [.2,.5,.9,1,.8,.5,.25,.05],[.95,1,.98,.85,.65,.45,.2,.1,.03,0],[.3,.7,.95,1,.8,.45,.25,.08,.05,.06,.05],[.2,.7,1,.35,.12,0]]
ncount_med = [2600,4400,1550,2450,3100,3250,4800,1450]
sscore_y = [[-.09,-.07,-.05,-.035,-.02,0,.02,.05,.08,.105],[-.115,-.09,-.07,-.045,-.02,0,.03,.06,.1,.2,.4],[-.08,-.07,-.05,-.04,-.02,0,.03,.06,.1,.185],[-.083,-.07,-.05,-.03,-.01,.01,.03,.05,.075],
            [-.095,-.085,-.06,-.04,-.02,0,.02,.04,.058],[-.085,-.07,-.05,-.03,-.01,.01,.04,.07,.117],[-.08,-.07,-.05,-.03,-.01,.02,.05,.09,.14,.2],[-.072,-.055,-.04,-.03,-.015,.01,.03,.06,.09,.15,.29]]
sscore_w = [[0,.4,1,.55,.4,.32,.14,.05,.02,0],[0,.1,.6,1,.7,.5,.25,.1,.04,.01,0],[0,.3,.9,1,.45,.2,.15,.08,.03,0],[.2,.55,1,.6,.5,.3,.15,.07,0],
            [.4,.75,1,.8,.55,.35,.2,.08,0],[.25,.65,1,.8,.55,.3,.12,.05,0],[.4,.75,.95,1,.85,.55,.25,.07,.02,0],[0,.3,1,.55,.22,.18,.1,.02,.03,.01,0]]
sscore_med = [-.032,-.031,-.031,-.033,-.044,-.034,-.026,-.025]
g2m_y = [[-.131,-.11,-.09,-.06,-.04,-.02,0,.03,.07,.12],[-.16,-.13,-.1,-.07,-.05,-.03,0,.03,.082],[-.123,-.1,-.08,-.06,-.04,-.02,0,.03,.062],[-.138,-.12,-.09,-.06,-.04,-.02,0,.04,.09,.18],
         [-.138,-.12,-.09,-.06,-.04,-.02,0,.03,.057],[-.138,-.12,-.09,-.06,-.04,-.02,0,.03,.051],[-.122,-.1,-.08,-.06,-.04,-.02,0,.03,.054],[-.1,-.09,-.07,-.04,-.02,0,.03,.06,.07]]
g2m_w = [[.03,.35,.75,1,.85,.6,.35,.14,.03,0],[0,.3,.75,1,.9,.6,.3,.12,0],[.03,.45,.85,1,.75,.45,.25,.12,0],[.03,.3,.8,1,.85,.55,.3,.1,.03,0],
         [.1,.35,.8,1,.9,.6,.3,.1,.08],[.1,.35,.85,1,.9,.65,.4,.15,.1],[.1,.55,.9,1,.85,.6,.3,.15,.05],[.35,.65,.95,1,.8,.55,.3,.14,.12]]
g2m_med = [-.051,-.06,-.058,-.058,-.057,-.06,-.052,-.039]

# panel J: mean expression and the ends of the error bars
dusp1_v = [1.32,1.88,1.27,2.35,2.27,2.40,2.24,1.63]; dusp1_hi = [2.61,3.13,2.58,3.42,3.35,3.59,3.37,2.92]; dusp1_lo = [.04,.65,-.04,1.27,1.19,1.2,1.09,.35]
egr1_v = [3.22,2.75,.93,3.03,2.14,3.03,2.47,2.92]; egr1_hi = [4.55,4.27,2.29,4.54,3.75,4.67,3.94,4.61]; egr1_lo = [1.86,1.24,-.43,1.5,.53,1.37,1.0,1.21]
hspa6_v = [.46,.65,.21,.57,.45,1.27,1.07,.24]; hspa6_hi = [1.42,1.88,.91,1.64,1.30,2.80,2.39,.94]; hspa6_lo = [-.5,-.6,-.49,-.52,-.42,-.26,-.26,-.44]
il32_v = [.01,.01,.005,.01,.02,.04,.84,.06]; il32_hi = [.1,.1,.1,.12,.19,.3,1.82,.43]; il32_lo = [-.09,-.08,-.09,-.1,-.15,-.22,-.13,-.31]
rpl35a_v = [3.62,3.39,3.72,3.64,3.18,3.40,3.44,3.88]; rpl35a_hi = [4.07,3.85,4.37,4.13,4.06,4.14,3.94,4.41]; rpl35a_lo = [3.15,2.92,3.08,3.15,2.31,2.67,2.94,3.34]
s100a8_v = [.05,.04,.05,.05,3.42,.09,.15,.12]; s100a8_hi = [.31,.22,.37,.32,5.02,.56,.75,.74]; s100a8_lo = [-.2,-.14,-.26,-.21,1.83,-.37,-.45,-.5]
srsf7_v = [.70,1.15,.33,.97,.66,1.15,.93,.21]; srsf7_hi = [1.65,2.13,1.10,2.02,1.58,2.25,1.86,.89]; srsf7_lo = [-.26,.17,-.44,-.08,-.24,.05,0,-.47]
txnip_v = [.84,1.47,1.70,1.48,1.89,1.65,1.84,.76]; txnip_hi = [1.86,2.56,3.09,2.65,3.08,2.87,2.91,1.87]; txnip_lo = [-.19,.36,.32,.30,.70,.42,.77,-.36]

###############################################################################
# Helpers
###############################################################################

fig = plt.figure(figsize=(W/100, H/100), dpi=100)
bg = fig.add_axes([0, 0, 1, 1])   # whole page in pixels, for letters and legends
bg.set_xlim(0, W)
bg.set_ylim(H, 0)
bg.axis('off')


def px_axes(l, t, r, b):
    return fig.add_axes([l/W, 1-b/H, (r-l)/W, (b-t)/H])


def letter(s, x, y):
    bg.text(x, y, s, family='Liberation Serif', fontsize=60, ha='left', va='baseline')


def box_legend(title, tx, ty, x0, x1, y0, rowh, cols, names, lx, fs, tfs=None, weight='normal'):
    if title:
        bg.text(tx, ty, title, fontsize=tfs or fs, va='center', fontweight=weight)
    for i in range(len(cols)):
        bg.add_patch(Rectangle((x0, y0+i*rowh), x1-x0, rowh, fc=cols[i], ec='#333333', lw=.8))
        bg.text(lx, y0+(i+.5)*rowh, names[i], fontsize=fs, va='center')


def dot_legend(xd, ys, cols, names, lx, fs, size):
    for i in range(len(cols)):
        bg.scatter([xd], [ys[i]], s=size, color=cols[i], lw=0)
        bg.text(lx, ys[i], names[i], fontsize=fs, va='center')


def smooth_patch(xs, ys, **kw):
    # closed outline drawn with quadratic path segments through the midpoints
    pts = np.column_stack([xs, ys])
    mids = (pts + np.roll(pts, -1, axis=0)) / 2
    verts = [mids[-1]]
    codes = [Path.MOVETO]
    for i in range(len(pts)):
        verts += [pts[i], mids[i]]
        codes += [Path.CURVE3, Path.CURVE3]
    return PathPatch(Path(verts, codes), **kw)


def violin(ax, x, ys, ws, width, color, lw=1.0, ec='black'):
    ys = np.array(ys, float)
    ws = np.array(ws, float) * width
    xs = np.concatenate([x-ws, (x+ws)[::-1]])
    yy = np.concatenate([ys, ys[::-1]])
    ax.add_patch(smooth_patch(xs, yy, fc=color, ec=ec, lw=lw, zorder=3))


def cell_xy(cells):
    arr = np.array(cells)
    return arr[:, 0], arr[:, 1]


cell_arr = np.vstack([np.array(c) for c in all_cells])
cell_sub = np.concatenate([[i]*len(c) for i, c in enumerate(all_cells)])


def arrow_axes(ax):
    ax.axis('off')
    ax.annotate("", xy=(1.0, 0), xytext=(0, 0), xycoords='axes fraction',
                arrowprops=dict(arrowstyle='-|>', lw=1.8, color='black'))
    ax.annotate("", xy=(0, 1.0), xytext=(0, 0), xycoords='axes fraction',
                arrowprops=dict(arrowstyle='-|>', lw=1.8, color='black'))


###############################################################################
# Panels A, B, C
###############################################################################

letter("A", 76, 86)
ax = px_axes(215, 54, 827, 558)
for i in range(8):
    x, y = cell_xy(all_cells[i])
    ax.scatter(x, y, s=26, color=sub_cols[i], lw=0)
ax.set_xlim(-8.9, 16.3)
ax.set_ylim(-9.98, 8.75)
ax.set_xticks([-5, 0, 5, 10, 15])
ax.set_yticks([-5, 0, 5])
ax.tick_params(labelsize=16, length=4)
ax.set_xlabel("UMAP_1", fontsize=16, labelpad=6)
ax.set_ylabel("UMAP_2", fontsize=16, labelpad=4)
for s in ax.spines.values():
    s.set_linewidth(2)
bg.text(521, 32, "Subtype", fontsize=18.5, fontweight='bold', ha='center', va='center')
dot_legend(863, [234, 256, 278, 301, 322, 344, 366, 388], sub_cols, subtypes, 886, 14, 140)

# B, phase on the map
letter("B", 1136, 86)
ax = px_axes(1254, 20, 1850, 596)
ax.scatter(cell_arr[:, 0], cell_arr[:, 1], s=55, color=phase_cols[0], lw=0)
ax.scatter(cell_arr[s_idx, 0], cell_arr[s_idx, 1], s=20, color=phase_cols[2], lw=0)
ax.scatter(cell_arr[g2m_idx, 0], cell_arr[g2m_idx, 1], s=20, color=phase_cols[1], lw=0)
ax.set_xlim(-8.93, 17.7)
ax.set_ylim(-9.97, 9.17)
arrow_axes(px_axes(1254, 510, 1340, 596))
ax.axis('off')
bg.text(1261, 16, "nCells:5001", fontsize=15, va='center')
bg.text(1237, 555, "UMAP_2", fontsize=15, rotation=90, ha='center', va='center')
bg.text(1295, 609, "UMAP_1", fontsize=15, ha='center', va='center')
bg.text(1840, 277, "Phase:", fontsize=15, va='center')
dot_legend(1849, [307, 329, 351], phase_cols, phase_names, 1873, 14, 300)

# C, tissue on the map
letter("C", 2128, 86)
ax = px_axes(2240, 20, 2836, 596)
ax.scatter(cell_arr[:, 0], cell_arr[:, 1], s=60, color=group_cols[0], lw=0)
tx, ty = cell_xy(tumor_cells)
ax.scatter(tx, ty, s=16, color=group_cols[1], lw=0)
ax.set_xlim(-8.93, 17.7)
ax.set_ylim(-9.97, 9.17)
arrow_axes(px_axes(2241, 510, 2327, 596))
ax.axis('off')
bg.text(2248, 16, "nCells:5001", fontsize=15, va='center')
bg.text(2224, 555, "UMAP_2", fontsize=15, rotation=90, ha='center', va='center')
bg.text(2282, 609, "UMAP_1", fontsize=15, ha='center', va='center')
bg.text(2827, 288, "Group:", fontsize=15, va='center')
dot_legend(2836, [318, 340], group_cols, group_names, 2858, 14, 300)

###############################################################################
# Panel D
###############################################################################

letter("D", 52, 705)
facet_cells = [p1peri, p1tumor, p2peri, p2tumor, cell_arr.tolist(), p3tumor]
facet_box = [(138, 718, 372, 987), (381, 718, 615, 987), (625, 718, 858, 987),
             (138, 1029, 372, 1298), (381, 1029, 615, 1298), (625, 1029, 858, 1298)]
for i in range(6):
    ax = px_axes(*facet_box[i])
    x, y = cell_xy(facet_cells[i])
    ax.scatter(x, y, s=50 if i == 4 else 11, color=facet_cols[i], lw=0)
    ax.set_xlim(-8.8, 16.2)
    ax.set_ylim(-9.85, 8.73)
    ax.set_xticks([])
    ax.set_yticks([])
    for s in ax.spines.values():
        s.set_color('#555555')
        s.set_linewidth(1.2)
    ax.set_title(facet_names[i], fontsize=9.5, color='#333333', pad=8)

###############################################################################
# Panel E
###############################################################################

letter("E", 889, 705)
for k, (props, box, name) in enumerate([(prop_peri, (1030, 726.5, 1396, 1227), "Peri"),
                                        (prop_tumor, (1428, 726.5, 1795, 1227), "Tumor")]):
    ax = px_axes(*box)
    for j in range(3):
        bottom = 0
        for i in range(7, -1, -1):
            ax.bar(j+1, props[j][i], bottom=bottom, width=.9, color=sub_cols[i])
            bottom += props[j][i]
    ax.set_xlim(.5, 3.5)
    ax.set_ylim(0, 100)
    for s in ax.spines.values():
        s.set_visible(False)
    ax.set_xticks([1, 2, 3])
    ax.set_xticklabels(sample_names[k], rotation=90, fontsize=12)
    ax.tick_params(axis='x', length=0, pad=6)
    if k == 0:
        ax.set_yticks([0, 25, 50, 75, 100])
        ax.tick_params(axis='y', labelsize=12, length=4, pad=2)
        ax.spines['left'].set_position(('outward', 14))
        ax.spines['left'].set_visible(False)
    else:
        ax.set_yticks([])
    bg.text((box[0]+box[2])/2, 712, name, fontsize=13, ha='center', va='center', fontweight='bold')
bg.text(967, 976, "Proportion (%)", fontsize=14, rotation=90, ha='center', va='center')
box_legend("celltype", 1829, 875, 1832, 1855, 890, 24.7, sub_cols, subtypes, 1862, 9.5, 11)

###############################################################################
# Panel F
###############################################################################

letter("F", 1940, 705)
roe_bounds = [0, .8, 1.5, 2, 3]
roe_cols = ["#EAB0B6", "#E69F9E", "#D06C6D", "#D65E62"]
roe_cmap = ListedColormap(roe_cols)
roe_norm = BoundaryNorm(roe_bounds, 4)


def roe_heat(box, vals, txt, rows, cols):
    ax = px_axes(*box)
    ax.pcolormesh(np.array(vals, float), cmap=roe_cmap, norm=roe_norm)
    ax.invert_yaxis()
    for r in range(len(rows)):
        for c in range(len(cols)):
            ax.text(c+.5, r+.5, txt[r][c], ha='center', va='center', fontsize=12)
    ax.set_yticks(np.arange(len(rows))+.5)
    ax.set_yticklabels(rows, fontsize=10.8)
    ax.set_xticks(np.arange(len(cols))+.5)
    ax.set_xticklabels(cols, fontsize=10.5, rotation=60, ha='right', rotation_mode='anchor', style='italic')
    ax.tick_params(length=0, pad=4)
    for s in ax.spines.values():
        s.set_visible(False)
    bg.text((box[0]+box[2])/2, 705, "Ro/e", fontsize=12, ha='center', va='center')


roe_heat((2166, 726.5, 2531, 1253.6), roe_vals_a, roe_text_a, roe_rows_a, ["G1", "G2M", "S"])
roe_heat((2787, 726.5, 3152, 1246.7), roe_vals_b, roe_text_b, roe_rows_b, ["Peri", "Tumor"])

ax = px_axes(2564, 951.5, 2596, 1050.7)
ax.pcolormesh(np.array([[.5], [1], [2.3]]), cmap=roe_cmap, norm=roe_norm)
ax.invert_yaxis()
ax.axis('off')
for y, s in [(969, "0"), (1001, "0.8"), (1035, "1.5")]:
    bg.text(2604, y, s, fontsize=10.5, va='center')
bg.text(2578, 937, "Ro/e", fontsize=11, ha='center', va='center')

ax = px_axes(3183, 931, 3215, 1064)
ax.pcolormesh(np.array([[.5], [1], [1.7], [2.3]]), cmap=roe_cmap, norm=roe_norm)
ax.invert_yaxis()
ax.axis('off')
for y, s in [(948, "0"), (982, "0.8"), (1015, "1.5"), (1048, "2")]:
    bg.text(3222, y, s, fontsize=10.5, va='center')
bg.text(3199, 917, "Ro/e", fontsize=11, ha='center', va='center')

###############################################################################
# Panel G
###############################################################################

letter("G", 81, 1389)
col_boxes = [(223, 897, 8), (911, 1080, 2)]
col_offsets = [0, 8]
strip_cols = [sub_cols, g_group_cols]
mini_rows = [("G2M.Score", 1487, 1557, mini_g2m, paired_cols), ("S.Score", 1559, 1629, mini_s, paired_cols),
             ("nCount_RNA", 1631, 1701, mini_ncount, dark_cols)]
pie_centers = [265 + 84.3*i for i in range(8)] + [953.6, 1037.5]

for k in range(2):
    l, r, n = col_boxes[k]
    off = col_offsets[k]

    # colour strip on top
    ax = px_axes(l, 1377, r, 1412.5)
    ax.bar(np.arange(n), 1, width=1, color=strip_cols[k], edgecolor='black', lw=1)
    ax.set_xlim(-.5, n-.5)
    ax.set_ylim(0, 1)
    ax.set_xticks([])
    ax.set_yticks([])

    # phase pies
    ax = px_axes(l, 1416, r, 1484.5)
    ax.set_xticks([])
    if k == 0:
        ax.set_yticks([.5])
        ax.set_yticklabels(["Phase"], fontsize=20.5)
        ax.tick_params(length=0, pad=7)
    else:
        ax.set_yticks([])
    for s in ax.spines.values():
        s.set_linewidth(1.5)

    # small violins
    for name, t, b, vals, cols in mini_rows:
        ax = px_axes(l, t, r, b)
        for i in range(n):
            bot, wide, top = vals[off+i]
            ys = [bot, (bot+wide)/2, wide, wide+(top-wide)*.2, wide+(top-wide)*.4, wide+(top-wide)*.7, top]
            ws = [0, .5, 1, .42, .16, .05, .02]
            violin(ax, i, ys, ws, .38, cols[off+i], lw=1.3, ec='#333333')
        ax.set_xlim(-.5, n-.5)
        ax.set_ylim(0, 1)
        ax.set_xticks([])
        if k == 0:
            ax.set_yticks([.5])
            ax.set_yticklabels([name], fontsize=20.5)
            ax.tick_params(length=0, pad=7)
        else:
            ax.set_yticks([])
        for s in ax.spines.values():
            s.set_linewidth(1.5)

    # dots
    ax = px_axes(l, 1708, r, 3761)
    ax.set_axisbelow(True)
    ax.grid(True, color='#C4C4C4', lw=1.5)
    xs, ys, ss, cc = [], [], [], []
    for j in range(len(genes)):
        for i in range(n):
            xs.append(i)
            ys.append(j)
            ss.append((43*pct[j][off+i]/100*.72)**2)
            cc.append(zs[j][off+i])
    ax.scatter(xs, ys, s=ss, c=cc, cmap='cividis', vmin=-2, vmax=2, edgecolor='#111111', lw=1.1, zorder=3)
    ax.set_xlim(-.5, n-.5)
    ax.set_ylim(39.5, -.507)
    ax.set_xticks(np.arange(n))
    ax.set_xticklabels([])
    ax.set_yticks(np.arange(len(genes)))
    if k == 0:
        ax.set_yticklabels(genes, fontsize=20.5)
        ax.tick_params(axis='y', length=0, pad=7)
    else:
        ax.set_yticklabels([])
        ax.tick_params(axis='y', length=0)
    ax.tick_params(axis='x', length=0)
    for s in ax.spines.values():
        s.set_linewidth(1.5)

for i in range(10):
    ax = px_axes(pie_centers[i]-31.5, 1449.5-31.5, pie_centers[i]+31.5, 1449.5+31.5)
    ax.pie(phase_share[i], colors=[g_phase_cols[2], g_phase_cols[1], g_phase_cols[0]], startangle=90, counterclock=False,
           wedgeprops=dict(edgecolor='#111111', linewidth=1.4))
    ax.set_xlim(-1.1, 1.1)
    ax.set_ylim(-1.1, 1.1)

bg.text(560, 1347, "Subtype", fontsize=23, ha='center', va='center')
bg.text(995, 1347, "Group", fontsize=23, ha='center', va='center')

bg.text(1094, 2085, "zscore(normalized counts)", fontsize=17.5, fontweight='bold', va='center')
ax = px_axes(1094, 2108, 1122, 2256)
ax.imshow(np.linspace(2.18, -2.15, 100)[:, None], aspect='auto', cmap='cividis', vmin=-2, vmax=2, extent=[0, 1, -2.15, 2.18])
ax.set_xticks([])
ax.yaxis.tick_right()
ax.set_yticks([-2, -1, 0, 1, 2])
ax.set_yticklabels(["\u22122", "\u22121", "0", "1", "2"], fontsize=17.5)
ax.tick_params(length=0, pad=7)
ax.hlines([-2, -1, 0, 1, 2], .8, 1, color='black', lw=1)
for s in ax.spines.values():
    s.set_linewidth(.8)
bg.text(1094, 2293, "Percent", fontsize=17.5, fontweight='bold', va='center')
size_pct = [20, 40, 60, 80, 100]
size_y = [2330, 2356, 2383, 2415, 2455]
for i in range(5):
    bg.scatter([1121], [size_y[i]], s=(43*size_pct[i]/100*.72)**2, color='#555555', edgecolor='black', lw=1)
    bg.text(1157, size_y[i], "%d%%" % size_pct[i], fontsize=17.5, va='center')
box_legend("Subtype", 1094, 2514, 1094, 1122, 2537, 28, sub_cols, subtypes, 1129, 17.5, 17.5, 'bold')
box_legend("Group", 1094, 2798, 1094, 1122, 2820, 28, g_group_cols, g_group_names, 1129, 17.5, 17.5, 'bold')
box_legend("Phase", 1094, 2912, 1094, 1122, 2934, 28.5, g_phase_cols, g_phase_names, 1129, 17.5, 17.5, 'bold')

###############################################################################
# Panel H
###############################################################################

letter("H", 1463, 1389)
feature_cmap = LinearSegmentedColormap.from_list("rdgy", ["#B2182B", "#D6604D", "#F4A582", "#FDDBC7", "#FFFFFF",
                                                          "#E0E0E0", "#BABABA", "#878787", "#4D4D4D"])
grid_x, grid_y = np.meshgrid(np.linspace(-9, 17, 170), np.linspace(-10, 9, 150))


def density(hx, hy, weights):
    dens = np.zeros_like(grid_x)
    for p, k in zip(cell_arr, cell_sub):
        dens += weights[k]*np.exp(-.5*((grid_x-p[0])/hx)**2 - .5*((grid_y-p[1])/hy)**2)
    return dens/dens.max()


def feature_map(name, tt, box, xlim, ylim, vals, vrange, hx, hy, weights, levels, cb_box, cb_ticks, cb_labels):
    bg.text(box[0], tt, name, fontsize=16, fontweight='bold', style='italic', va='center')
    ax = px_axes(*box)
    colors = np.concatenate([np.resize(vals[i], len(all_cells[i])) for i in range(8)])
    ax.scatter(cell_arr[:, 0], cell_arr[:, 1], c=colors, s=42, cmap=feature_cmap, vmin=vrange[0], vmax=vrange[1], lw=0)
    ax.contour(grid_x, grid_y, density(hx, hy, weights), levels=levels, colors='black', linewidths=2)
    ax.set_xlim(*xlim)
    ax.set_ylim(*ylim)
    ax.set_xticks([-5, 0, 5, 10, 15])
    ax.set_yticks([-5, 0, 5])
    ax.tick_params(labelsize=11, length=3)
    ax.set_xlabel("UMAP1", fontsize=16.5, labelpad=5)
    ax.set_ylabel("UMAP2", fontsize=16.5, labelpad=4)
    for s in ax.spines.values():
        s.set_color('#555555')
        s.set_linewidth(1.3)
    cb = px_axes(*cb_box)
    cb.imshow(np.linspace(vrange[1], vrange[0], 200)[:, None], aspect='auto', cmap=feature_cmap,
              extent=[0, 1, vrange[0], vrange[1]])
    cb.set_xticks([])
    cb.yaxis.tick_right()
    cb.set_yticks(cb_ticks)
    cb.set_yticklabels(cb_labels, fontsize=14)
    cb.tick_params(length=0, pad=10)
    cb.hlines(cb_ticks, 0, .2, color='white', lw=1)
    cb.hlines(cb_ticks, .8, 1, color='white', lw=1)
    for s in cb.spines.values():
        s.set_visible(False)


wts_a = [1, 1.05, 1.25, 1.3, .5, .5, .5, .5]
wts_b = [1, 1.05, 1.25, .5, .4, .4, .4, .4]
feature_map("CNVscore", 1373, (1594, 1397, 2016, 1819), (-8.87, 16.25), (-9.98, 8.78), cnv_vals, (.004, .045), .8, .75, wts_a,
            [.3, .5, .72, .93], (2049, 1531, 2080, 1696), [.01, .02, .03, .04], ["0.01", "0.02", "0.03", "0.04"])
feature_map("nCount_RNA", 2002, (1594, 2026, 2000, 2432), (-8.87, 16.25), (-9.98, 8.78), ncount_vals, (300, 24000), .8, .75, wts_a,
            [.3, .55, .78, .94], (2033, 2151, 2065, 2317), [5000, 10000, 15000, 20000], ["5000", "10000", "15000", "20000"])
feature_map("S.Score", 2613, (1594, 2637, 2016, 3059), (-8.87, 16.25), (-9.98, 8.78), sscore_vals, (-.11, .4), .95, .9, wts_b,
            [.25, .45, .68, .9], (2049, 2771, 2080, 2936), [-.1, 0, .1, .2, .3, .4], ["\u22120.1", "0.0", "0.1", "0.2", "0.3", "0.4"])
feature_map("G2M.Score", 3235, (1594, 3258, 2016, 3680), (-8.87, 16.25), (-9.98, 8.78), g2m_vals, (-.163, .183), 1.15, 1.1, wts_b,
            [.16, .4, .64, .88], (2049, 3391, 2080, 3557), [-.1, 0, .1], ["\u22120.1", "0.0", "0.1"])

###############################################################################
# Panels I and J
###############################################################################

letter("I", 2190, 1389)
letter("J", 14, 3881)


def band_axes(box, title, ticks, ylim, ylabel_x, xlabel_y, tick_fmt=None):
    ax = px_axes(*box)
    for i in range(8):
        ax.axvspan(i+.5, i+1.5, color=sub_cols[i], alpha=.2, lw=0, zorder=0)
    ax.axvspan(.4, .5, color=sub_cols[0], alpha=.2, lw=0, zorder=0)
    ax.axvspan(8.5, 8.6, color=sub_cols[7], alpha=.2, lw=0, zorder=0)
    ax.set_xlim(.4, 8.6)
    ax.set_ylim(*ylim)
    ax.set_yticks(ticks)
    if tick_fmt:
        ax.set_yticklabels(tick_fmt)
    ax.set_xticks(np.arange(1, 9))
    ax.set_xticklabels(subtypes, rotation=47, ha='right', rotation_mode='anchor', style='italic', fontsize=8.8)
    ax.tick_params(axis='y', labelsize=10, length=3, pad=2)
    ax.tick_params(axis='x', length=3, pad=2)
    for t in ticks:
        ax.axhline(t, color='#999999', lw=1.1, ls=(0, (4, 3)), alpha=.7, zorder=1)
    for s in ax.spines.values():
        s.set_linewidth(1.1)
    ax.spines['top'].set_linewidth(1.8)
    cx = (box[0]+box[2])/2
    cy = (box[1]+box[3])/2
    bg.text(cx, box[1]-10, title, fontsize=10.5, ha='center', va='center')
    bg.text(cx, xlabel_y, "Subtype", fontsize=11, ha='center', va='center')
    bg.text(ylabel_x, cy, "Expression level", fontsize=10.7, rotation=90, ha='center', va='center')
    return ax


def violin_panel(box, title, ticks, labels, ylim, ys, ws, med, ylabel_x, xlabel_y, leg_y):
    ax = band_axes(box, title, ticks, ylim, ylabel_x, xlabel_y, labels)
    for i in range(8):
        violin(ax, i+1, ys[i], ws[i], .45, sub_cols[i], lw=.9, ec='#222222')
        ax.hlines(med[i], i+1-.09, i+1+.09, color='black', lw=2.2, zorder=4)
    box_legend("Subtype:", 2993, leg_y, 2995, 3008, leg_y+14, 14, sub_cols, subtypes, 3015, 9, 10)


violin_panel((2343, 1365, 2975, 1784), "CNVscore", [.01, .02, .03, .04], ["0.01", "0.02", "0.03", "0.04"], (.0019, .0471), cnv_y, cnv_w, cnv_med, 2302, 1882, 1515)
violin_panel((2356, 1985, 2975, 2405), "nCount_RNA", [0, 5000, 10000, 15000, 20000, 25000], ["0", "5000", "10000", "15000", "20000", "25000"], (-610, 25000), ncount_y, ncount_w, ncount_med, 2302, 2503, 2136)
violin_panel((2343, 2605, 2975, 3024), "S.Score", [-.1, 0, .1, .2, .3, .4], ["\u22120.1", "0.0", "0.1", "0.2", "0.3", "0.4"], (-.136, .428), sscore_y, sscore_w, sscore_med, 2302, 3122, 2755)
violin_panel((2343, 3226, 2975, 3645), "G2M.Score", [-.1, 0, .1], ["\u22120.1", "0.0", "0.1"], (-.176, .196), g2m_y, g2m_w, g2m_med, 2302, 3743, 3376)


def bar_panel(box, title, ticks, ylim, v, hi, lo, ylabel_x, leg_x, xlabel_y):
    ax = band_axes(box, title, ticks, ylim, ylabel_x, xlabel_y)
    xs = np.arange(1, 9)
    ax.bar(xs, v, width=.8, color=sub_cols, edgecolor='#222222', lw=1.1, zorder=3)
    ax.vlines(xs, lo, hi, color='#222222', lw=1.1, zorder=4)
    ax.hlines(hi, xs-.1, xs+.1, color='#222222', lw=1.6, zorder=4)
    ax.hlines(lo, xs-.1, xs+.1, color='#222222', lw=1.6, zorder=4)
    ax.axhline(0, color='#222222', lw=1.6, ls=(0, (4, 3)), zorder=2)
    y0 = box[1]+146
    box_legend("Subtype:", leg_x, box[1]+134, leg_x, leg_x+13, y0, 12.4, sub_cols, subtypes, leg_x+19, 9, 10)


cols_j = [(74, 651, 52, 668), (881, 1458, 857, 1475), (1686, 2263, 1663, 2280), (2493, 3070, 2470, 3086)]
row1 = (3873, 4246, 4336)
row2 = (4432, 4804, 4894)
bar_panel((cols_j[0][0], row1[0], cols_j[0][1], row1[1]), "DUSP1", [0, 1, 2, 3, 4, 5], (-.27, 5.01), dusp1_v, dusp1_hi, dusp1_lo, cols_j[0][2], cols_j[0][3], row1[2])
bar_panel((cols_j[1][0], row1[0], cols_j[1][1], row1[1]), "EGR1", [0, 2, 4, 6], (-.75, 6.45), egr1_v, egr1_hi, egr1_lo, cols_j[1][2], cols_j[1][3], row1[2])
bar_panel((cols_j[2][0], row1[0], cols_j[2][1], row1[1]), "HSPA6", [0, 2, 4], (-.88, 5.69), hspa6_v, hspa6_hi, hspa6_lo, cols_j[2][2], cols_j[2][3], row1[2])
bar_panel((cols_j[3][0], row1[0], cols_j[3][1], row1[1]), "IL32", [0, 1, 2, 3], (-.47, 3.36), il32_v, il32_hi, il32_lo, cols_j[3][2], cols_j[3][3], row1[2])
bar_panel((cols_j[0][0], row2[0], cols_j[0][1], row2[1]), "RPL35A", [0, 1, 2, 3, 4, 5], (-.25, 5.35), rpl35a_v, rpl35a_hi, rpl35a_lo, cols_j[0][2], cols_j[0][3], row2[2])
bar_panel((cols_j[1][0], row2[0], cols_j[1][1], row2[1]), "S100A8", [0, 2, 4, 6], (-.84, 6.72), s100a8_v, s100a8_hi, s100a8_lo, cols_j[1][2], cols_j[1][3], row2[2])
bar_panel((cols_j[2][0], row2[0], cols_j[2][1], row2[1]), "SRSF7", [0, 1, 2, 3], (-.67, 3.78), srsf7_v, srsf7_hi, srsf7_lo, cols_j[2][2], cols_j[2][3], row2[2])
bar_panel((cols_j[3][0], row2[0], cols_j[3][1], row2[1]), "TXNIP", [0, 2, 4], (-.62, 5.46), txnip_v, txnip_hi, txnip_lo, cols_j[3][2], cols_j[3][3], row2[2])

plt.savefig("out.png", dpi=100)
